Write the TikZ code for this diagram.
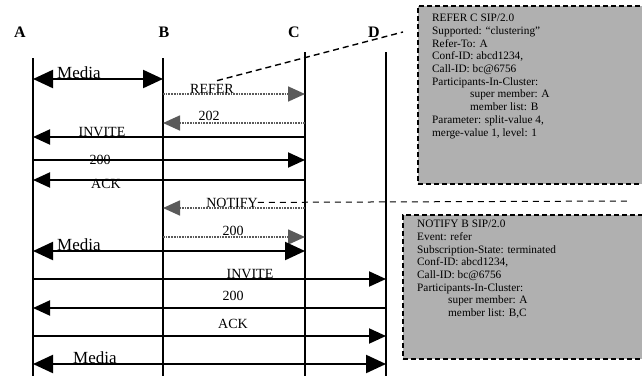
\documentclass[tikz,border=0pt]{standalone}
\usepackage{fontspec}
\setmainfont{Liberation Serif}
\usetikzlibrary{arrows.meta, positioning}
\definecolor{boxgray}{RGB}{176,176,176}
\definecolor{dotgray}{RGB}{90,90,90}

\begin{document}
\begin{tikzpicture}[
    x=1pt, y=-1pt,
    party/.style={font=\fontsize{16}{16}\selectfont\bfseries, anchor=base, inner sep=0pt},
    lifeline/.style={line width=2.4pt},
    arrow/.style={-{Triangle[length=17pt, width=15pt]}, line width=2pt},
    dotarrow/.style={-{Triangle[length=17pt, width=15pt]}, line width=1.7pt, densely dotted, color=dotgray},
    media/.style={{Triangle[length=20pt, width=18pt]}-{Triangle[length=20pt, width=18pt]}, line width=2.2pt},
    msg/.style={font=\fontsize{14}{14}\selectfont, anchor=base, inner sep=0pt},
    medialbl/.style={font=\fontsize{17}{17}\selectfont, anchor=base west, inner sep=0pt},
    infobox/.style={draw, dash pattern=on 5pt off 3pt, line width=1.6pt, fill=boxgray,
                    anchor=north west, inner sep=0pt},
    infotext/.style={anchor=north west, align=left, inner sep=0pt,
                     font=\fontsize{11.3}{12.7}\selectfont},
    callout/.style={dash pattern=on 6pt off 4pt, line width=1.4pt},
    notecall/.style={dash pattern=on 6pt off 5pt, line width=1pt}
]
    \useasboundingbox (0,0) rectangle (642,375);
    \clip (0,0) rectangle (642,375);

    % parties
    \node[party] (A) at (20,37)  {A};
    \node[party] (B) at (164,37) {B};
    \node[party] (C) at (294,37) {C};
    \node[party] (D) at (374,37) {D};

    \coordinate (Atop) at (33,58);   \coordinate (Abot) at (33,376);
    \coordinate (Btop) at (163,58);  \coordinate (Bbot) at (163,376);
    \coordinate (Ctop) at (305,52);  \coordinate (Cbot) at (305,376);
    \coordinate (Dtop) at (386,52);  \coordinate (Dbot) at (386,376);

    \draw[lifeline] (Atop) -- (Abot);
    \draw[lifeline] (Btop) -- (Bbot);
    \draw[lifeline] (Ctop) -- (Cbot);
    \draw[lifeline] (Dtop) -- (Dbot);

    % info boxes
    \node[infobox, minimum width=250pt, minimum height=178pt] (referbox) at (417,5) {};
    \node[infotext] (refertext) at (432,14) {REFER C SIP/2.0\\
        Supported: “clustering”\\
        Refer-To: A\\
        Conf-ID: abcd1234,\\
        Call-ID: bc@6756\\
        Participants-In-Cluster:\\
        \hspace*{38pt}super member: A\\
        \hspace*{38pt}member list: B\\
        Parameter: split-value 4,\\
        merge-value 1, level: 1};
    \node[infobox, minimum width=260pt, minimum height=144pt] (notifybox) at (402,214) {};
    \node[infotext] (notifytext) at (417,220) {NOTIFY B SIP/2.0\\
        Event: refer\\
        Subscription-State: terminated\\
        Conf-ID: abcd1234,\\
        Call-ID: bc@6756\\
        Participants-In-Cluster:\\
        \hspace*{31pt}super member: A\\
        \hspace*{31pt}member list: B,C};

    % messages
    \draw[media] (Atop |- 0,79) -- (Btop |- 0,79);
    \node[medialbl] (media1) at (57,78) {Media};

    \draw[dotarrow] (Btop |- 0,94) -- (Ctop |- 0,94);
    \node[msg] (refer) at (212,93) {REFER};

    \draw[dotarrow] (Ctop |- 0,123) -- (Btop |- 0,123);
    \node[msg] (ok1) at (209,120) {202};

    \draw[arrow] (Ctop |- 0,137) -- (Atop |- 0,137);
    \node[msg] (invite1) at (102,136) {INVITE};

    \draw[arrow] (Atop |- 0,160) -- (Ctop |- 0,160);
    \node[msg] (ok2) at (100,164) {200};

    \draw[arrow] (Ctop |- 0,180) -- (Atop |- 0,180);
    \node[msg] (ack1) at (106,188) {ACK};

    \draw[dotarrow] (Ctop |- 0,208) -- (Btop |- 0,208);
    \node[msg] (notify) at (232,207) {NOTIFY};

    \draw[dotarrow] (Btop |- 0,237) -- (Ctop |- 0,237);
    \node[msg] (ok3) at (233,235) {200};

    \draw[media] (Atop |- 0,251) -- (Ctop |- 0,251);
    \node[medialbl] (media2) at (57,250) {Media};

    \draw[arrow] (Atop |- 0,279) -- (Dtop |- 0,279);
    \node[msg] (invite2) at (250,278) {INVITE};

    \draw[arrow] (Dtop |- 0,308) -- (Atop |- 0,308);
    \node[msg] (ok4) at (233,300) {200};

    \draw[arrow] (Atop |- 0,336) -- (Dtop |- 0,336);
    \node[msg] (ack2) at (233,328) {ACK};

    \draw[media] (Atop |- 0,364) -- (Dtop |- 0,364);
    \node[medialbl] (media3) at (73,363) {Media};

    % callouts to the boxes
    \coordinate (refertail) at (403,32);
    \coordinate (notifytail) at (627,201);
    \draw[callout] ([xshift=5pt, yshift=3pt]refer.north) -- (refertail);
    \draw[notecall] (notify.east) -- (notifytail);
\end{tikzpicture}
\end{document}
